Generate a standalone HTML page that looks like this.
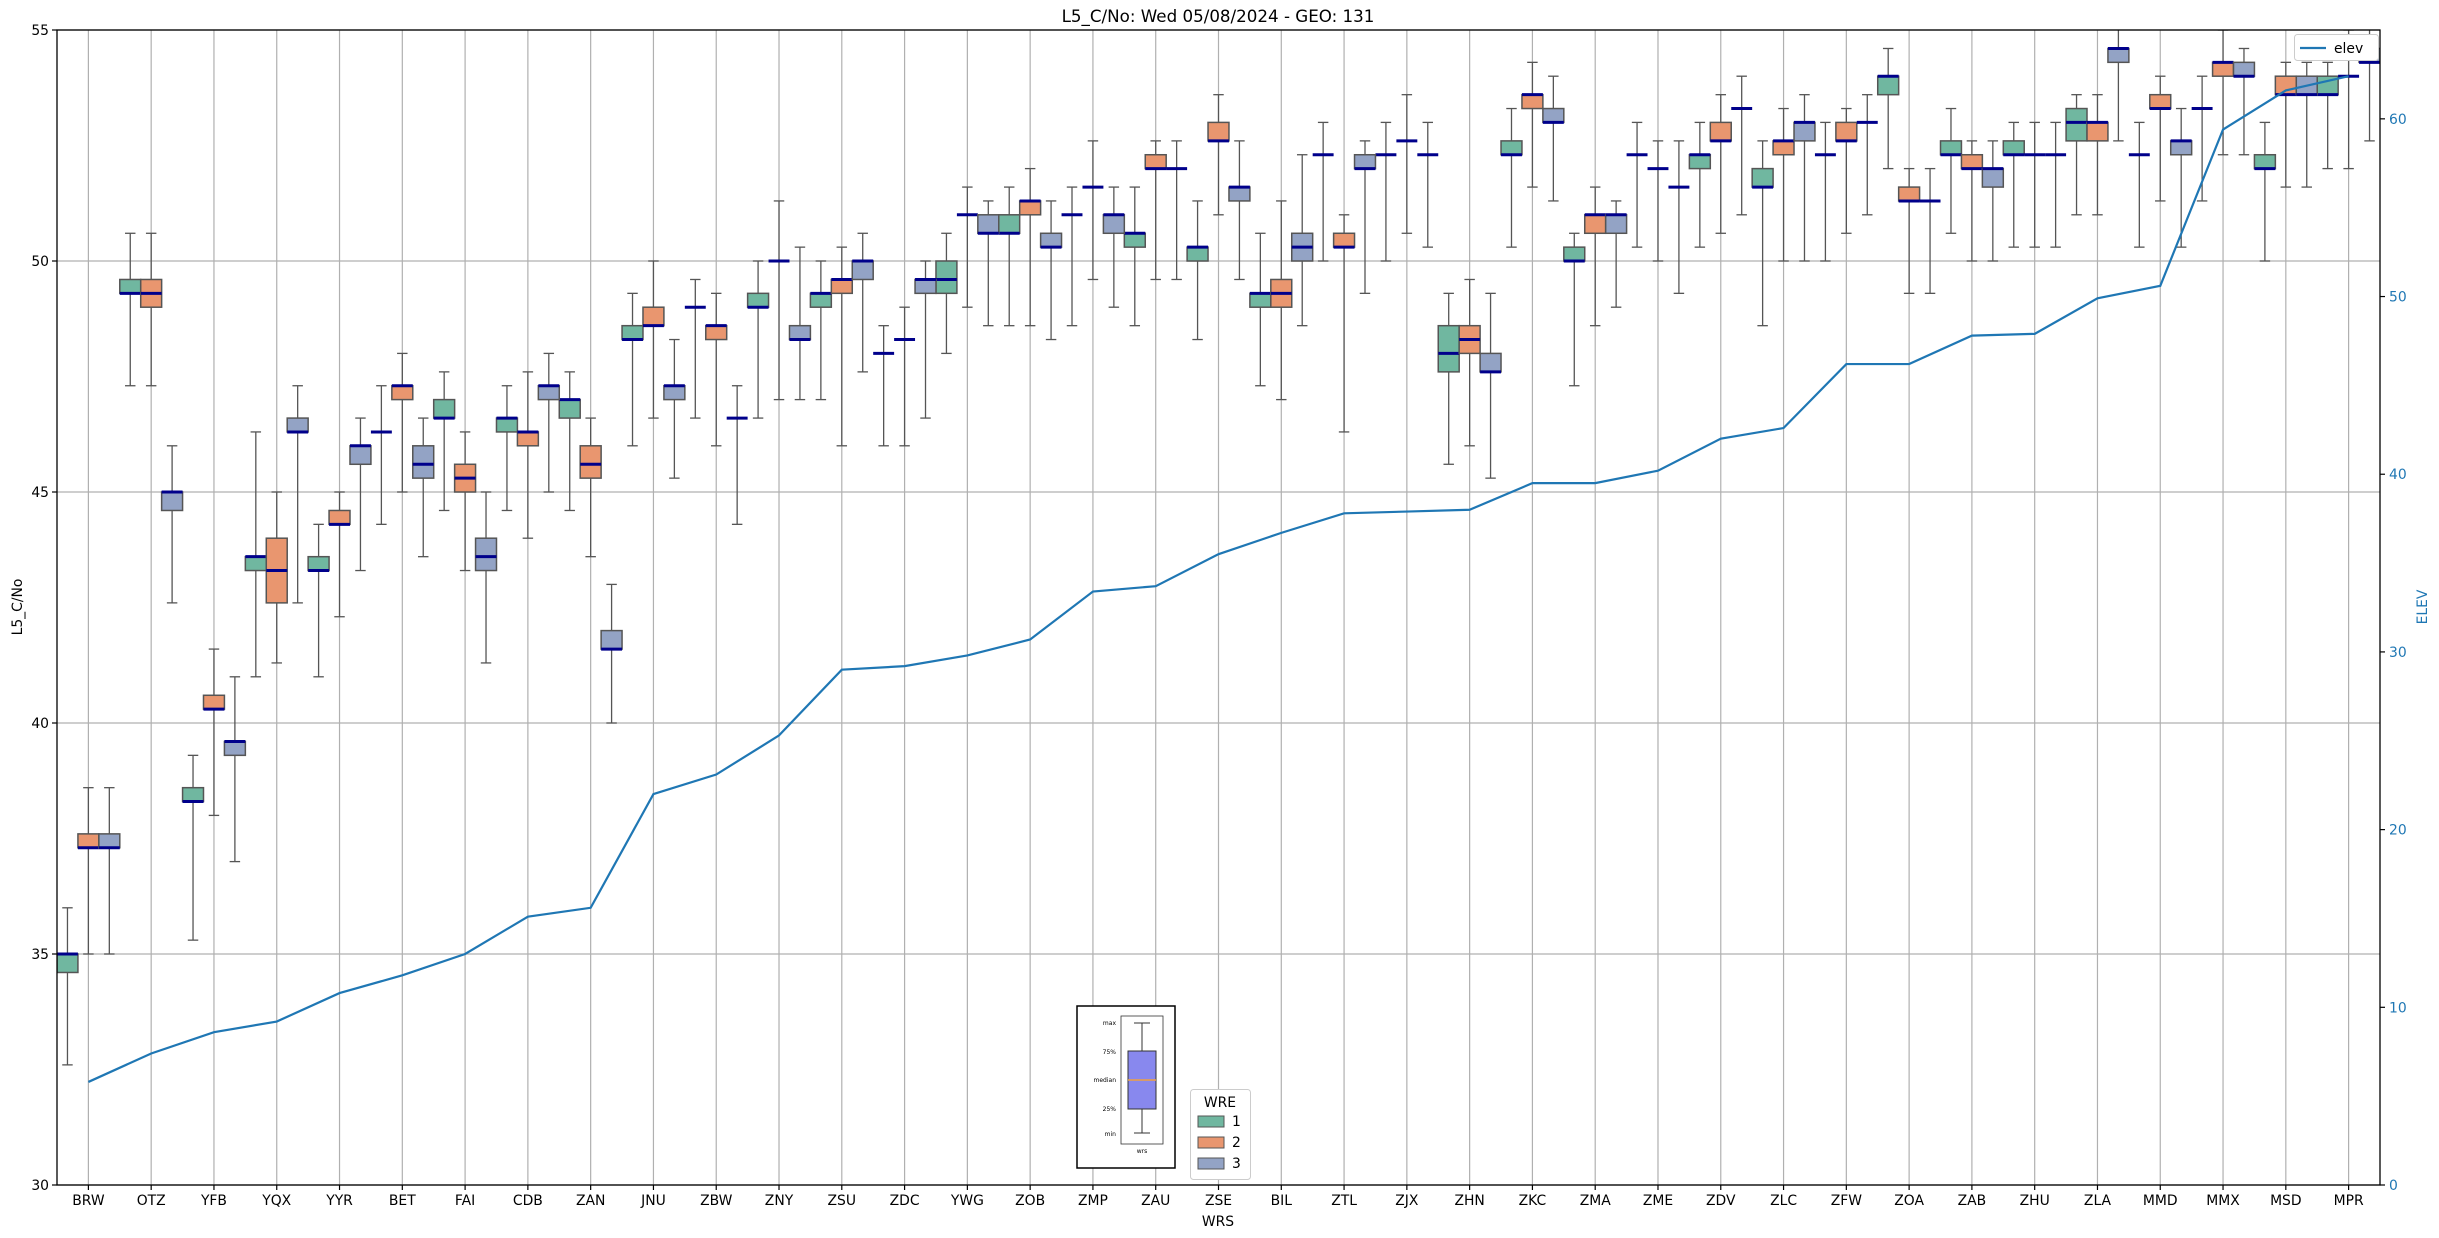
<!DOCTYPE html>
<html><head><meta charset="utf-8"><style>
html,body{margin:0;padding:0;background:#fff;overflow:hidden}
svg{display:block;font-family:"DejaVu Sans","Liberation Sans",sans-serif}
</style></head><body>
<svg id="chart" width="2439" height="1238" viewBox="0 0 2439 1238" xmlns="http://www.w3.org/2000/svg">
<rect x="0" y="0" width="2439" height="1238" fill="#fff"/>
<text x="1218" y="22" font-size="16.7" text-anchor="middle">L5_C/No: Wed 05/08/2024 - GEO: 131</text>
<defs><clipPath id="pc"><rect x="57" y="30" width="2323" height="1155"/></clipPath></defs>
<g id="grid"></g>
<g id="boxes" clip-path="url(#pc)"></g>
<g id="elevg" clip-path="url(#pc)"></g>
<g id="axes"></g>
<text x="1218" y="1226" font-size="13.9" text-anchor="middle">WRS</text>
<text x="0" y="0" font-size="13.9" text-anchor="middle" transform="translate(22,607) rotate(-90)">L5_C/No</text>
<text x="0" y="0" font-size="13.9" text-anchor="middle" fill="#1f77b4" transform="translate(2427,607) rotate(-90)">ELEV</text>
<g transform="translate(2294,34)">
<rect x="0.5" y="0.5" width="84" height="26" rx="3" fill="#fff" stroke="#ccc"/>
<line x1="6" y1="14" x2="32" y2="14" stroke="#1f77b4" stroke-width="2.2"/>
<text x="40" y="19" font-size="13.9">elev</text>
</g>
<g transform="translate(1190,1089)">
<rect x="0.5" y="0.5" width="60" height="90" rx="3" fill="#fff" stroke="#ccc"/>
<text x="30" y="18" font-size="13.9" text-anchor="middle">WRE</text>
<rect x="8" y="27" width="26" height="11" fill="#70b7a0" stroke="#555"/><text x="42" y="37" font-size="13.9">1</text>
<rect x="8" y="48" width="26" height="11" fill="#e9966f" stroke="#555"/><text x="42" y="58" font-size="13.9">2</text>
<rect x="8" y="69" width="26" height="11" fill="#93a3c5" stroke="#555"/><text x="42" y="79" font-size="13.9">3</text>
</g>
<g transform="translate(1076,1005)">
<rect x="1" y="1" width="98" height="162" fill="#fff" stroke="#000" stroke-width="1.5"/>
<rect x="45" y="11" width="42" height="128" fill="#fff" stroke="#333" stroke-width="0.8"/>
<line x1="66" y1="18" x2="66" y2="128" stroke="#333"/>
<line x1="58" y1="18" x2="74" y2="18" stroke="#333"/>
<line x1="58" y1="128" x2="74" y2="128" stroke="#333"/>
<rect x="52" y="46" width="28" height="58" fill="#8888ee" stroke="#333"/>
<line x1="52" y1="75" x2="80" y2="75" stroke="#f0a040" stroke-width="1.5"/>
<text x="40" y="20" font-size="6" text-anchor="end">max</text>
<text x="40" y="49" font-size="6" text-anchor="end">75%</text>
<text x="40" y="77" font-size="6" text-anchor="end">median</text>
<text x="40" y="106" font-size="6" text-anchor="end">25%</text>
<text x="40" y="131" font-size="6" text-anchor="end">min</text>
<text x="66" y="148" font-size="6" text-anchor="middle">wrs</text>
</g>
</svg>
<script>
const categories=["BRW","OTZ","YFB","YQX","YYR","BET","FAI","CDB","ZAN","JNU","ZBW","ZNY","ZSU","ZDC","YWG","ZOB","ZMP","ZAU","ZSE","BIL","ZTL","ZJX","ZHN","ZKC","ZMA","ZME","ZDV","ZLC","ZFW","ZOA","ZAB","ZHU","ZLA","MMD","MMX","MSD","MPR"];
// each: [min,q1,median,q3,max]
const wre1=[[32.6,34.6,35.0,35.0,36.0],[47.3,49.3,49.3,49.6,50.6],[35.3,38.3,38.3,38.6,39.3],[41.0,43.3,43.6,43.6,46.3],[41.0,43.3,43.3,43.6,44.3],[44.3,46.3,46.3,46.3,47.3],[44.6,46.6,46.6,47.0,47.6],[44.6,46.3,46.6,46.6,47.3],[44.6,46.6,47.0,47.0,47.6],[46.0,48.3,48.3,48.6,49.3],[46.6,49.0,49.0,49.0,49.6],[46.6,49.0,49.0,49.3,50.0],[47.0,49.0,49.3,49.3,50.0],[46.0,48.0,48.0,48.0,48.6],[48.0,49.3,49.6,50.0,50.6],[48.6,50.6,50.6,51.0,51.6],[48.6,51.0,51.0,51.0,51.6],[48.6,50.3,50.6,50.6,51.6],[48.3,50.0,50.3,50.3,51.3],[47.3,49.0,49.3,49.3,50.6],[50.0,52.3,52.3,52.3,53.0],[50.0,52.3,52.3,52.3,53.0],[45.6,47.6,48.0,48.6,49.3],[50.3,52.3,52.3,52.6,53.3],[47.3,50.0,50.0,50.3,50.6],[50.3,52.3,52.3,52.3,53.0],[50.3,52.0,52.3,52.3,53.0],[48.6,51.6,51.6,52.0,52.6],[50.0,52.3,52.3,52.3,53.0],[52.0,53.6,54.0,54.0,54.6],[50.6,52.3,52.3,52.6,53.3],[50.3,52.3,52.3,52.6,53.0],[51.0,52.6,53.0,53.3,53.6],[50.3,52.3,52.3,52.3,53.0],[51.3,53.3,53.3,53.3,54.0],[50.0,52.0,52.0,52.3,53.0],[52.0,53.6,53.6,54.0,54.3]];
const wre2=[[35.0,37.3,37.3,37.6,38.6],[47.3,49.0,49.3,49.6,50.6],[38.0,40.3,40.3,40.6,41.6],[41.3,42.6,43.3,44.0,45.0],[42.3,44.3,44.3,44.6,45.0],[45.0,47.0,47.3,47.3,48.0],[43.3,45.0,45.3,45.6,46.3],[44.0,46.0,46.3,46.3,47.6],[43.6,45.3,45.6,46.0,46.6],[46.6,48.6,48.6,49.0,50.0],[46.0,48.3,48.6,48.6,49.3],[47.0,50.0,50.0,50.0,51.3],[46.0,49.3,49.6,49.6,50.3],[46.0,48.3,48.3,48.3,49.0],[49.0,51.0,51.0,51.0,51.6],[48.6,51.0,51.3,51.3,52.0],[49.6,51.6,51.6,51.6,52.6],[49.6,52.0,52.0,52.3,52.6],[51.0,52.6,52.6,53.0,53.6],[47.0,49.0,49.3,49.6,51.3],[46.3,50.3,50.3,50.6,51.0],[50.6,52.6,52.6,52.6,53.6],[46.0,48.0,48.3,48.6,49.6],[51.6,53.3,53.6,53.6,54.3],[48.6,50.6,51.0,51.0,51.6],[50.0,52.0,52.0,52.0,52.6],[50.6,52.6,52.6,53.0,53.6],[50.0,52.3,52.6,52.6,53.3],[50.6,52.6,52.6,53.0,53.3],[49.3,51.3,51.3,51.6,52.0],[50.0,52.0,52.0,52.3,52.6],[50.3,52.3,52.3,52.3,53.0],[51.0,52.6,53.0,53.0,53.6],[51.3,53.3,53.3,53.6,54.0],[52.3,54.0,54.3,54.3,55.0],[51.6,53.6,53.6,54.0,54.3],[52.0,54.0,54.0,54.0,55.0]];
const wre3=[[35.0,37.3,37.3,37.6,38.6],[42.6,44.6,45.0,45.0,46.0],[37.0,39.3,39.6,39.6,41.0],[42.6,46.3,46.3,46.6,47.3],[43.3,45.6,46.0,46.0,46.6],[43.6,45.3,45.6,46.0,46.6],[41.3,43.3,43.6,44.0,45.0],[45.0,47.0,47.3,47.3,48.0],[40.0,41.6,41.6,42.0,43.0],[45.3,47.0,47.3,47.3,48.3],[44.3,46.6,46.6,46.6,47.3],[47.0,48.3,48.3,48.6,50.3],[47.6,49.6,50.0,50.0,50.6],[46.6,49.3,49.6,49.6,50.0],[48.6,50.6,50.6,51.0,51.3],[48.3,50.3,50.3,50.6,51.3],[49.0,50.6,51.0,51.0,51.6],[49.6,52.0,52.0,52.0,52.6],[49.6,51.3,51.6,51.6,52.6],[48.6,50.0,50.3,50.6,52.3],[49.3,52.0,52.0,52.3,52.6],[50.3,52.3,52.3,52.3,53.0],[45.3,47.6,47.6,48.0,49.3],[51.3,53.0,53.0,53.3,54.0],[49.0,50.6,51.0,51.0,51.3],[49.3,51.6,51.6,51.6,52.6],[51.0,53.3,53.3,53.3,54.0],[50.0,52.6,53.0,53.0,53.6],[51.0,53.0,53.0,53.0,53.6],[49.3,51.3,51.3,51.3,52.0],[50.0,51.6,52.0,52.0,52.6],[50.3,52.3,52.3,52.3,53.0],[52.6,54.3,54.6,54.6,55.3],[50.3,52.3,52.6,52.6,53.3],[52.3,54.0,54.0,54.3,54.6],[51.6,53.6,53.6,54.0,54.3],[52.6,54.3,54.3,54.6,55.3]];
const elev=[5.8,7.4,8.6,9.2,10.8,11.8,13.0,15.1,15.6,22.0,23.1,25.3,29.0,29.2,29.8,30.7,33.4,33.7,35.5,36.7,37.8,37.9,38.0,39.5,39.5,40.2,42.0,42.6,46.2,46.2,47.8,47.9,49.9,50.6,59.4,61.6,62.4];
const leftTicks=[30,35,40,45,50,55];
const rightTicks=[0,10,20,30,40,50,60];

const NS="http://www.w3.org/2000/svg";
const L=57,R=2380,T=30,B=1185;
const nSlots=categories.length;
const step=(R-L)/nSlots;
function xc(i){return L+(i+0.5)*step;}
function yl(v){return B-(v-30)/(55-30)*(B-T);}
function yr(v){return B-(v-0)/(65-0)*(B-T);}
function mk(tag,attrs,parent){const e=document.createElementNS(NS,tag);for(const k in attrs)e.setAttribute(k,attrs[k]);parent.appendChild(e);return e;}
const grid=document.getElementById('grid'),boxes=document.getElementById('boxes'),elevg=document.getElementById('elevg'),axes=document.getElementById('axes');
categories.forEach((c,i)=>{const g=mk('line',{x1:xc(i),x2:xc(i),y1:T,y2:B,stroke:'#b0b0b0','stroke-width':1.2},grid);

});
leftTicks.forEach(v=>{const g=mk('line',{x1:L,x2:R,y1:yl(v),y2:yl(v),stroke:'#b0b0b0','stroke-width':1.2},grid);

});
const series=[wre1,wre2,wre3];
const colors=['#70b7a0','#e9966f','#93a3c5'];
const bw=step/3;
series.forEach((s,k)=>{
 s.forEach((d,i)=>{
  const cx=xc(i)+(k-1)*bw;
  const g=mk('g',{},boxes);
  
  
  const [mn,q1,md,q3,mx]=d;
  const st={stroke:'#555','stroke-width':1.3};
  mk('line',Object.assign({x1:cx,x2:cx,y1:yl(mn),y2:yl(q1)},st),g);
  mk('line',Object.assign({x1:cx,x2:cx,y1:yl(q3),y2:yl(mx)},st),g);
  mk('line',Object.assign({x1:cx-bw/4,x2:cx+bw/4,y1:yl(mn),y2:yl(mn)},st),g);
  mk('line',Object.assign({x1:cx-bw/4,x2:cx+bw/4,y1:yl(mx),y2:yl(mx)},st),g);
  if(q3>q1) mk('rect',{x:cx-bw/2,y:yl(q3),width:bw,height:yl(q1)-yl(q3),fill:colors[k],stroke:'#555','stroke-width':1.5},g);
  mk('line',{x1:cx-bw/2,x2:cx+bw/2,y1:yl(md),y2:yl(md),stroke:'#00008b','stroke-width':3},g);
 });
});
const pts=elev.map((v,i)=>xc(i)+','+yr(v)).join(' ');
const pl=mk('polyline',{points:pts,fill:'none',stroke:'#1f77b4','stroke-width':2.2},elevg);


const fr=mk('rect',{x:L,y:T,width:R-L,height:B-T,fill:'none',stroke:'#000','stroke-width':1.3},axes);


categories.forEach((c,i)=>{
 mk('line',{x1:xc(i),x2:xc(i),y1:B,y2:B+5,stroke:'#000','stroke-width':1.2},axes);
 const t=mk('text',{x:xc(i),y:B+20,'font-size':13.9,'text-anchor':'middle'},axes);t.textContent=c;
 
 
});
leftTicks.forEach(v=>{
 mk('line',{x1:L-5,x2:L,y1:yl(v),y2:yl(v),stroke:'#000','stroke-width':1.2},axes);
 const t=mk('text',{x:L-8,y:yl(v)+5,'font-size':13.9,'text-anchor':'end'},axes);t.textContent=v;
 
 
});
rightTicks.forEach(v=>{
 mk('line',{x1:R,x2:R+5,y1:yr(v),y2:yr(v),stroke:'#000','stroke-width':1.2},axes);
 const t=mk('text',{x:R+9,y:yr(v)+5,'font-size':13.9,fill:'#1f77b4'},axes);t.textContent=v;
 
 
});
</script>
</body></html>
